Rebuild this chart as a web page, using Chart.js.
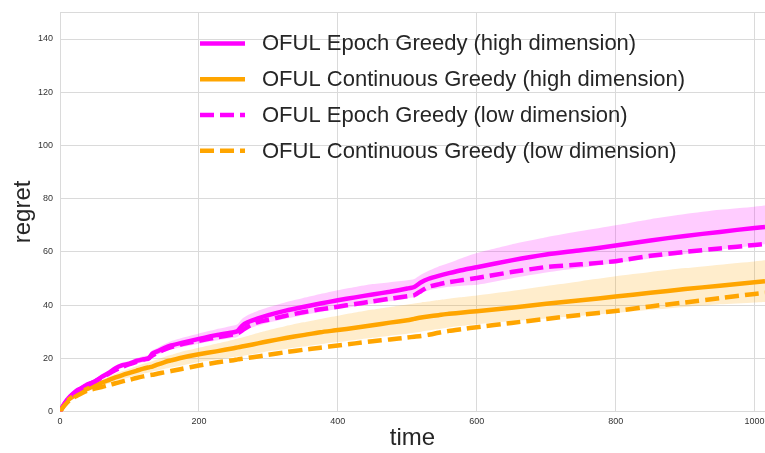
<!DOCTYPE html>
<html>
<head>
<meta charset="utf-8">
<script src="https://cdn.jsdelivr.net/npm/chart.js@4/dist/chart.umd.min.js"></script>
<style>
  html, body { margin: 0; padding: 0; background: #ffffff; }
  #wrap { width: 765px; height: 453px; position: relative; }
</style>
</head>
<body>
<div id="wrap"><canvas id="regretChart"></canvas></div>
<script>
// Time steps at which cumulative regret was recorded
const time = [0, 5, 10, 15, 20, 25, 30, 40, 50, 60, 70, 80, 90, 100, 110, 120, 128, 133, 140, 150, 160, 175, 200, 225, 250, 256, 262, 270, 285, 300, 325, 350, 375, 400, 425, 450, 475, 500, 510, 520, 530, 545, 560, 580, 600, 650, 700, 750, 800, 850, 900, 950, 1000, 1015];

// Mean cumulative regret per algorithm
const epochHigh = [0, 2.4, 4.3, 5.8, 7.0, 8.0, 8.7, 10.2, 11.2, 13.0, 14.5, 16.3, 17.4, 18.0, 19.0, 19.6, 20.0, 21.8, 22.6, 23.8, 24.8, 25.8, 27.3, 28.7, 29.8, 30.3, 32.2, 33.5, 35.0, 36.2, 37.9, 39.3, 40.6, 41.8, 42.9, 44.0, 45.0, 46.2, 46.8, 48.6, 49.8, 51.0, 52.0, 53.2, 54.2, 56.8, 59.0, 60.6, 62.4, 64.3, 66.0, 67.5, 69.0, 69.3];
const continuousHigh = [0, 2.0, 3.8, 5.0, 5.9, 6.7, 7.4, 8.6, 9.7, 10.8, 11.8, 12.8, 13.7, 14.5, 15.3, 16.1, 16.6, 16.9, 17.6, 18.5, 19.2, 20.2, 21.5, 22.6, 23.8, 24.1, 24.4, 24.8, 25.6, 26.4, 27.6, 28.7, 29.8, 30.6, 31.5, 32.4, 33.4, 34.3, 34.8, 35.3, 35.7, 36.2, 36.7, 37.2, 37.7, 39.0, 40.5, 41.8, 43.2, 44.6, 46.0, 47.3, 48.6, 49.0];
const epochLow = [0, 2.3, 4.2, 5.6, 6.8, 7.8, 8.6, 10.0, 11.3, 12.7, 14.2, 15.6, 16.8, 17.8, 18.7, 19.5, 20.1, 21.0, 22.0, 23.2, 24.2, 25.3, 26.6, 27.8, 29.0, 29.4, 30.4, 31.8, 33.6, 34.5, 36.0, 37.3, 38.4, 39.4, 40.4, 41.4, 42.4, 43.3, 43.7, 45.3, 46.8, 47.8, 48.6, 49.4, 50.2, 52.4, 54.3, 55.3, 56.5, 58.5, 60.0, 61.3, 62.6, 63.0];
const continuousLow = [0, 1.8, 3.3, 4.4, 5.3, 6.0, 6.7, 7.9, 8.6, 9.2, 9.9, 10.6, 11.3, 11.9, 12.6, 13.2, 13.6, 13.8, 14.2, 14.7, 15.2, 16.0, 17.3, 18.4, 19.3, 19.6, 19.8, 20.1, 20.7, 21.3, 22.3, 23.2, 24.0, 24.8, 25.6, 26.4, 27.1, 27.8, 28.1, 28.4, 28.8, 29.6, 30.3, 31.0, 31.7, 33.3, 34.8, 36.3, 37.8, 39.5, 41.0, 42.6, 44.2, 44.6];

// Spread across runs for the high-dimension settings
const epochHighUpper = [0, 2.9, 4.9, 6.4, 7.7, 8.7, 9.5, 11.0, 12.1, 13.9, 15.4, 17.2, 18.4, 19.0, 20.1, 20.8, 21.2, 23.0, 23.9, 25.3, 26.4, 27.6, 29.3, 30.9, 32.3, 32.9, 34.8, 36.2, 37.9, 39.2, 41.1, 42.7, 44.2, 45.6, 46.8, 47.9, 48.6, 49.3, 49.8, 51.5, 52.8, 54.5, 55.8, 57.8, 59.6, 62.8, 65.5, 67.8, 70.0, 72.3, 74.2, 75.8, 77.0, 77.4];
const epochHighLower = [0, 1.9, 3.7, 5.2, 6.4, 7.3, 8.0, 9.4, 10.4, 12.1, 13.6, 15.3, 16.4, 17.1, 18.0, 18.5, 18.9, 20.6, 21.3, 22.4, 23.3, 24.2, 25.5, 26.7, 27.7, 28.1, 29.8, 31.0, 32.3, 33.4, 34.9, 36.2, 37.4, 38.5, 39.5, 40.5, 41.4, 42.5, 43.0, 44.5, 45.5, 46.3, 46.9, 47.3, 47.6, 50.0, 52.2, 54.0, 55.8, 57.5, 59.2, 60.8, 62.4, 62.9];
const continuousHighUpper = [0, 2.3, 4.2, 5.5, 6.5, 7.4, 8.2, 9.5, 10.8, 12.0, 13.1, 14.2, 15.2, 16.1, 17.0, 17.9, 18.5, 18.9, 19.5, 20.5, 21.3, 22.5, 24.0, 25.5, 27.0, 27.4, 27.8, 28.4, 29.5, 30.5, 32.1, 33.5, 34.8, 36.0, 37.2, 38.3, 39.3, 40.2, 40.6, 41.0, 41.3, 41.9, 42.4, 43.0, 43.6, 45.3, 47.2, 49.0, 50.8, 52.4, 53.9, 55.2, 56.4, 56.8];
const continuousHighLower = [0, 1.7, 3.4, 4.5, 5.3, 6.0, 6.6, 7.7, 8.6, 9.6, 10.5, 11.4, 12.2, 12.9, 13.6, 14.3, 14.7, 15.0, 15.4, 16.0, 16.5, 17.3, 18.6, 19.5, 20.5, 20.7, 20.9, 21.2, 21.9, 22.6, 23.5, 24.4, 25.3, 26.1, 26.9, 27.7, 28.5, 29.2, 29.6, 30.0, 30.4, 31.0, 31.6, 32.2, 32.8, 34.0, 35.0, 36.0, 37.0, 38.2, 39.3, 40.3, 41.0, 41.2];

// Axis ticks
const timeTicks = [0, 200, 400, 600, 800, 1000];
const regretTicks = [0, 20, 40, 60, 80, 100, 120, 140];

const MAGENTA = '#ff00ff';
const ORANGE = '#ffa500';
const FONT = '"Liberation Sans", Arial, sans-serif';
const DASH = [14, 6];

const pts = ys => time.map((t, i) => ({ x: t, y: ys[i] }));

const lineSet = (label, ys, color, dash, order) => ({
  label, data: pts(ys), borderColor: color, backgroundColor: color,
  borderWidth: 4.5, borderDash: dash, pointRadius: 0, tension: 0.2,
  fill: false, order, inLegend: true
});
const bandSet = (ys, color, fill) => ({
  label: '', data: pts(ys), borderWidth: 0, borderColor: 'rgba(0,0,0,0)',
  backgroundColor: color, pointRadius: 0, tension: 0.2, fill, order: 10, inLegend: false
});

const datasets = [
  lineSet('OFUL Epoch Greedy (high dimension)', epochHigh, MAGENTA, [], 4),
  lineSet('OFUL Continuous Greedy (high dimension)', continuousHigh, ORANGE, [], 3),
  lineSet('OFUL Epoch Greedy (low dimension)', epochLow, MAGENTA, DASH, 2),
  lineSet('OFUL Continuous Greedy (low dimension)', continuousLow, ORANGE, DASH, 1),
  bandSet(epochHighUpper, 'rgba(255,0,255,0.2)', '+1'),
  bandSet(epochHighLower, 'rgba(255,0,255,0.2)', false),
  bandSet(continuousHighUpper, 'rgba(255,165,0,0.2)', '+1'),
  bandSet(continuousHighLower, 'rgba(255,165,0,0.2)', false)
];

// Legend drawn inside the plot area, top right
const insideLegend = {
  id: 'insideLegend',
  afterDraw(chart) {
    const { ctx, chartArea } = chart;
    const lineX = chartArea.left + 140, lineLen = 45;
    const textX = chartArea.left + 202;
    const firstY = chartArea.top + 31, rowGap = 35.8;
    ctx.save();
    ctx.font = '22px ' + FONT;
    ctx.textBaseline = 'middle';
    ctx.fillStyle = '#262626';
    chart.data.datasets.filter(d => d.inLegend).forEach((d, i) => {
      const y = firstY + i * rowGap;
      ctx.beginPath();
      ctx.strokeStyle = d.borderColor;
      ctx.lineWidth = 4.5;
      ctx.setLineDash(d.borderDash);
      ctx.moveTo(lineX, y);
      ctx.lineTo(lineX + lineLen, y);
      ctx.stroke();
      ctx.fillText(d.label, textX, y + 1);
    });
    ctx.restore();
  }
};

new Chart(document.getElementById('regretChart'), {
  type: 'line',
  data: { datasets },
  options: {
    responsive: true,
    maintainAspectRatio: false,
    animation: false,
    layout: { padding: { top: 12, right: 0, left: 0, bottom: 0 } },
    plugins: { legend: { display: false }, tooltip: { enabled: false } },
    scales: {
      x: {
        type: 'linear', min: 0, max: 1015,
        afterBuildTicks: s => { s.ticks = timeTicks.map(v => ({ value: v })); },
        afterFit: s => { s.height = 41.5; s.paddingLeft = 0; s.paddingRight = 0; },
        grid: { color: '#dadada', lineWidth: 1, drawTicks: false },
        border: { display: false },
        ticks: { padding: 5, color: '#333', font: { family: FONT, size: 9 }, maxRotation: 0,
                 callback: v => String(v) },
        title: { display: true, text: 'time', color: '#262626', font: { family: FONT, size: 24 }, padding: { top: -3, bottom: 0 } }
      },
      y: {
        type: 'linear', min: 0, max: 150,
        afterBuildTicks: s => { s.ticks = regretTicks.concat([150]).map(v => ({ value: v })); },
        afterFit: s => { s.width = 60; },
        grid: { color: '#dadada', lineWidth: 1, drawTicks: false },
        border: { display: true, color: '#dadada' },
        ticks: { padding: 7, color: '#333', font: { family: FONT, size: 9 },
                 callback: v => regretTicks.includes(v) ? String(v) : '' },
        title: { display: true, text: 'regret', color: '#262626', font: { family: FONT, size: 24 }, padding: { top: 9, bottom: 0 } }
      }
    }
  },
  plugins: [insideLegend]
});
</script>
</body>
</html>
